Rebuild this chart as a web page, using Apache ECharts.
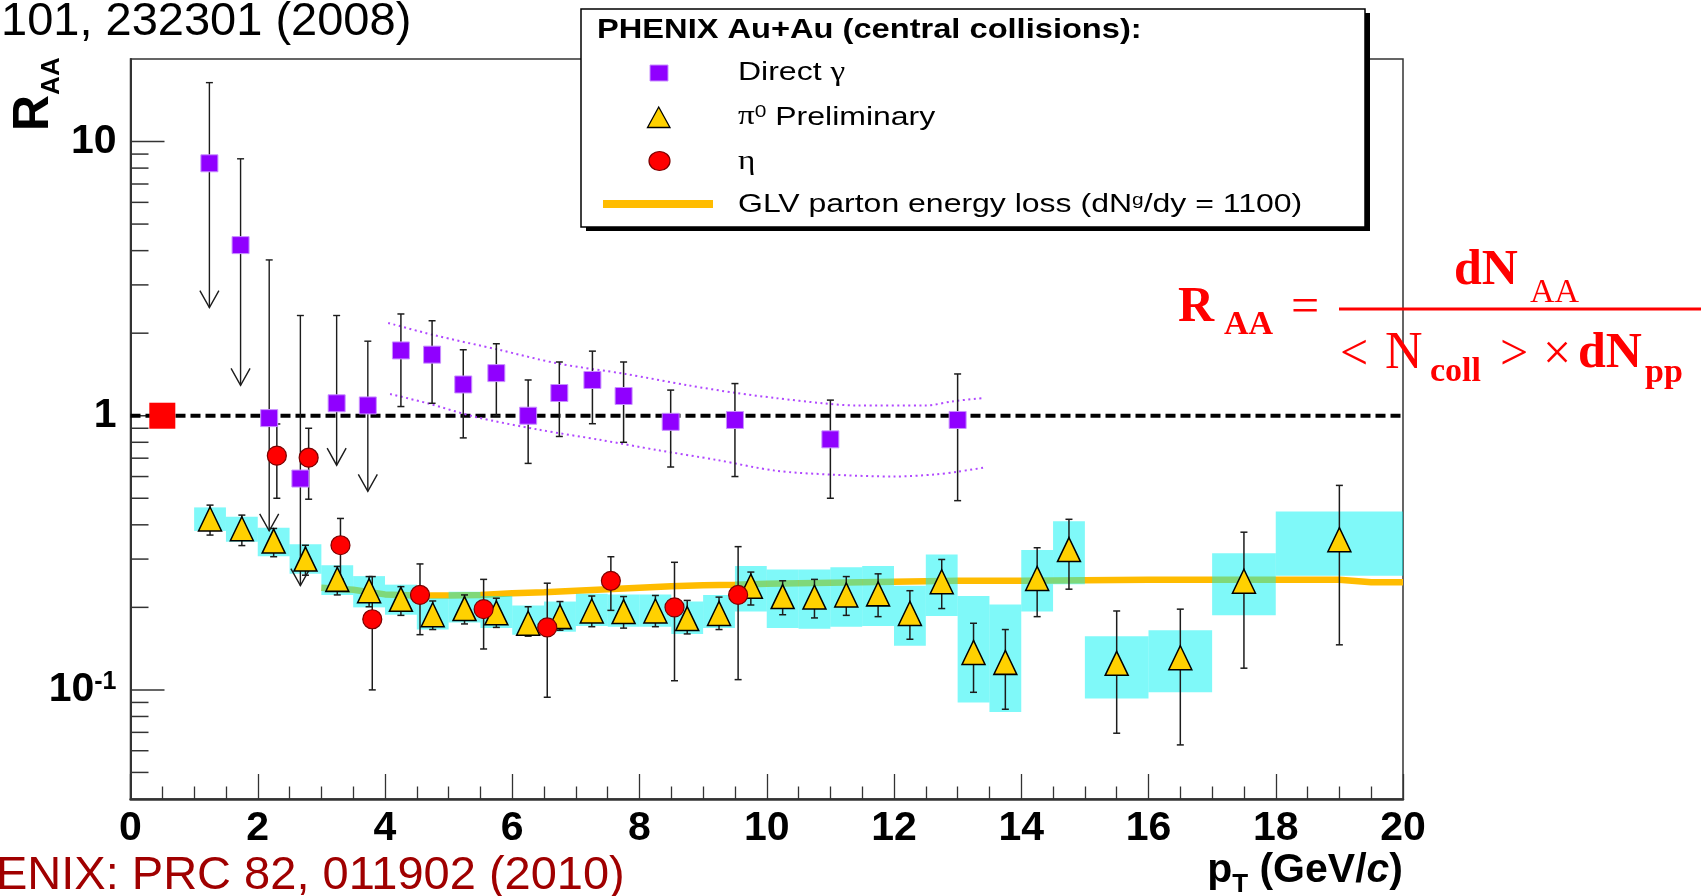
<!DOCTYPE html>
<html>
<head>
<meta charset="utf-8">
<script src="https://cdn.jsdelivr.net/npm/echarts@6.0.0/dist/echarts.min.js"></script>
<style>
  html, body { margin: 0; padding: 0; background: #fff; }
  #chart { width: 1704px; height: 896px; }
</style>
</head>
<body>
<div id="chart"></div>
<script>
// ---- data ----
// direct photons
const gammaPt    = [1.24, 1.73, 2.18, 2.67, 3.24, 3.73, 4.25, 4.74, 5.23, 5.75, 6.25, 6.74, 7.26, 7.75, 8.49, 9.5, 11.0, 13.0];
const gammaR     = [8.33, 4.19, 0.98, 0.59, 1.11, 1.09, 1.73, 1.67, 1.30, 1.43, 1.00, 1.21, 1.35, 1.18, 0.95, 0.965, 0.82, 0.965];
const gammaHi    = [16.4, 8.65, 3.70, 2.32, 2.32, 1.87, 2.35, 2.22, 1.74, 1.83, 1.35, 1.57, 1.72, 1.57, 1.24, 1.31, 1.14, 1.42];
const gammaLo    = [2.48, 1.29, 0.38, 0.24, 0.66, 0.53, 1.08, 1.11, 0.83, 1.00, 0.67, 0.84, 0.935, 0.80, 0.65, 0.60, 0.50, 0.49];
const gammaLimit = [1, 1, 1, 1, 1, 1, 0, 0, 0, 0, 0, 0, 0, 0, 0, 0, 0, 0];

// pi0 preliminary
const pi0Pt     = [1.25, 1.75, 2.25, 2.75, 3.25, 3.75, 4.25, 4.75, 5.25, 5.75, 6.25, 6.75, 7.25, 7.75, 8.25, 8.75,
                   9.25, 9.75, 10.25, 10.75, 11.25, 11.75, 12.25, 12.75, 13.25, 13.75, 14.25, 14.75, 15.5, 16.5, 17.5, 19];
const pi0R      = [0.42, 0.387, 0.349, 0.30, 0.253, 0.230, 0.214, 0.188, 0.198, 0.191, 0.175, 0.185, 0.194, 0.193, 0.194, 0.182,
                   0.19, 0.239, 0.219, 0.218, 0.222, 0.224, 0.19, 0.248, 0.137, 0.126, 0.255, 0.325, 0.125, 0.131, 0.249, 0.353];
const pi0StatHi = [0.472, 0.434, 0.388, 0.337, 0.282, 0.259, 0.238, 0.211, 0.222, 0.216, 0.201, 0.21, 0.22, 0.219, 0.221, 0.212,
                   0.218, 0.269, 0.25, 0.253, 0.259, 0.265, 0.23, 0.299, 0.175, 0.166, 0.33, 0.419, 0.194, 0.197, 0.376, 0.557];
const pi0StatLo = [0.367, 0.336, 0.306, 0.262, 0.222, 0.201, 0.187, 0.166, 0.174, 0.169, 0.157, 0.165, 0.17, 0.168, 0.17, 0.16,
                   0.166, 0.204, 0.188, 0.183, 0.187, 0.185, 0.153, 0.198, 0.098, 0.085, 0.185, 0.233, 0.0695, 0.063, 0.120, 0.146];
const pi0SysHi  = [0.463, 0.428, 0.39, 0.34, 0.285, 0.26, 0.242, 0.216, 0.228, 0.22, 0.203, 0.21, 0.224, 0.223, 0.223, 0.21,
                   0.222, 0.283, 0.275, 0.275, 0.28, 0.283, 0.24, 0.312, 0.22, 0.205, 0.324, 0.412, 0.157, 0.165, 0.315, 0.447];
const pi0SysLo  = [0.38, 0.347, 0.307, 0.265, 0.222, 0.20, 0.188, 0.166, 0.176, 0.168, 0.159, 0.163, 0.171, 0.17, 0.17, 0.16,
                   0.168, 0.193, 0.168, 0.167, 0.17, 0.171, 0.145, 0.186, 0.09, 0.083, 0.193, 0.243, 0.093, 0.098, 0.187, 0.261];
const pi0BinW   = [0.5, 0.5, 0.5, 0.5, 0.5, 0.5, 0.5, 0.5, 0.5, 0.5, 0.5, 0.5, 0.5, 0.5, 0.5, 0.5,
                   0.5, 0.5, 0.5, 0.5, 0.5, 0.5, 0.5, 0.5, 0.5, 0.5, 0.5, 0.5, 1, 1, 1, 2];

// eta
const etaPt = [2.3, 2.8, 3.3, 3.8, 4.55, 5.55, 6.55, 7.55, 8.55, 9.55];
const etaR  = [0.715, 0.703, 0.337, 0.181, 0.222, 0.197, 0.169, 0.25, 0.20, 0.222];
const etaHi = [0.933, 0.90, 0.422, 0.259, 0.288, 0.253, 0.245, 0.306, 0.292, 0.333];
const etaLo = [0.50, 0.496, 0.253, 0.10, 0.159, 0.141, 0.094, 0.195, 0.108, 0.109];

// GLV parton energy loss curve
const glvPt = [3.0, 3.5, 4.0, 4.5, 5.0, 5.5, 6.0, 6.5, 7.0, 7.5, 8.0, 8.5, 9.0, 9.5, 10, 11, 12, 13, 14, 15, 16, 17, 18, 19, 19.5, 20];
const glvR  = [0.236, 0.232, 0.223, 0.221, 0.221, 0.222, 0.225, 0.227, 0.23, 0.233, 0.236, 0.239, 0.241, 0.242, 0.244, 0.246,
               0.248, 0.25, 0.25, 0.251, 0.252, 0.252, 0.252, 0.252, 0.247, 0.247];

// direct photon theory band (dotted)
const bandHiPt = [4.05, 4.76, 5.79, 6.72, 7.78, 8.77, 9.52, 10.14, 10.89, 11.39, 12.5, 12.94, 13.4];
const bandHiR  = [2.18, 1.97, 1.74, 1.55, 1.42, 1.29, 1.21, 1.16, 1.11, 1.09, 1.09, 1.13, 1.16];
const bandLoPt = [4.08, 4.67, 5.42, 6.41, 7.40, 8.27, 9.21, 10.14, 11.01, 12.0, 12.63, 13.0, 13.4];
const bandLoR  = [1.20, 1.11, 0.99, 0.89, 0.815, 0.75, 0.69, 0.63, 0.61, 0.60, 0.61, 0.625, 0.646];

const refPt = [0.5];
const refR  = [1];
const unityPt = [0, 20];
const unityR  = [1, 1];

const yMajorTicks = [0.1, 1, 10];
const yMinorTicks = [0.05, 0.06, 0.07, 0.08, 0.09, 0.2, 0.3, 0.4, 0.5, 0.6, 0.7, 0.8, 0.9, 2, 3, 4, 5, 6, 7, 8, 9];

// ---- helpers ----
const SANS = '"Liberation Sans", Arial, sans-serif';
const SERIF = '"Liberation Serif", "Times New Roman", serif';
const INK = '#1c1c1c';
const zip = (xs, ys) => xs.map((x, i) => [x, ys[i]]);

function errorBar(params, api) {
  const x = api.value(0);
  const top = api.coord([x, api.value(2)]);
  const bot = api.coord([x, api.value(1)]);
  const c = 3.5;
  const st = { stroke: INK, lineWidth: 1.5 };
  return {
    type: 'group',
    children: [
      { type: 'line', shape: { x1: top[0], y1: top[1], x2: bot[0], y2: bot[1] }, style: st },
      { type: 'line', shape: { x1: top[0] - c, y1: top[1], x2: top[0] + c, y2: top[1] }, style: st },
      { type: 'line', shape: { x1: bot[0] - c, y1: bot[1], x2: bot[0] + c, y2: bot[1] }, style: st }
    ]
  };
}

function limitArrow(params, api) {
  const x = api.value(0);
  const top = api.coord([x, api.value(2)]);
  const tip = api.coord([x, api.value(1)]);
  const c = 3.5;
  const st = { stroke: INK, lineWidth: 1.4, fill: null };
  return {
    type: 'group',
    children: [
      { type: 'line', shape: { x1: top[0], y1: top[1], x2: tip[0], y2: tip[1] }, style: st },
      { type: 'line', shape: { x1: top[0] - c, y1: top[1], x2: top[0] + c, y2: top[1] }, style: st },
      { type: 'polyline', shape: { points: [[tip[0] - 9.5, tip[1] - 17], [tip[0], tip[1]], [tip[0] + 9.5, tip[1] - 17]] }, style: st }
    ]
  };
}

function sysBox(params, api) {
  const x = api.value(0), w = api.value(1);
  const p1 = api.coord([x - w / 2, api.value(3)]);
  const p2 = api.coord([x + w / 2, api.value(2)]);
  return {
    type: 'rect',
    shape: { x: p1[0], y: p1[1], width: p2[0] - p1[0], height: p2[1] - p1[1] },
    style: { fill: '#00f4f4', opacity: 0.5 }
  };
}

function yTick(len) {
  return function (params, api) {
    const p = api.coord([0, api.value(1)]);
    return { type: 'line', shape: { x1: p[0], y1: p[1], x2: p[0] + len, y2: p[1] }, style: { stroke: '#333', lineWidth: 1.5 } };
  };
}

const gammaBarData = [], gammaArrowData = [];
gammaPt.forEach((x, i) => {
  (gammaLimit[i] ? gammaArrowData : gammaBarData).push([x, gammaLo[i], gammaHi[i]]);
});

const chart = echarts.init(document.getElementById('chart'), null, { renderer: 'canvas' });

const option = {
  animation: false,
  backgroundColor: '#fff',
  grid: {
    left: 130.5, right: 301, top: 59, bottom: 97,
    show: true, borderColor: '#333', borderWidth: 1.5,
    containLabel: false, outerBoundsMode: 'none'
  },
  xAxis: {
    type: 'value', min: 0, max: 20, interval: 2,
    axisLine: { show: true, onZero: false, lineStyle: { color: '#333', width: 2.5 } },
    axisTick: { show: true, inside: true, length: 25, lineStyle: { color: '#333', width: 1.3 } },
    minorTick: { show: true, splitNumber: 4, length: 12.5, lineStyle: { color: '#333', width: 1.3 } },
    splitLine: { show: false },
    axisLabel: { margin: 9, fontSize: 41, fontWeight: 'bold', fontFamily: SANS, color: '#000' }
  },
  yAxis: {
    type: 'log', logBase: 10, min: 0.04, max: 20,
    axisLine: { show: true, lineStyle: { color: '#333', width: 2 } },
    axisTick: { show: false },
    minorTick: { show: false },
    splitLine: { show: false },
    axisLabel: {
      margin: 14, showMinLabel: false, showMaxLabel: false,
      formatter: function (v) {
        if (Math.abs(v - 10) < 1e-6) return '{b|10}';
        if (Math.abs(v - 1) < 1e-6) return '{b|1}';
        if (Math.abs(v - 0.1) < 1e-6) return '{b|10}{s|-1}';
        return '';
      },
      rich: {
        b: { fontSize: 41, fontWeight: 'bold', fontFamily: SANS, color: '#000', verticalAlign: 'bottom' },
        s: { fontSize: 25, fontWeight: 'bold', fontFamily: SANS, color: '#000', verticalAlign: 'top' }
      }
    }
  },
  series: [
    { type: 'custom', name: 'yMinor', silent: true, z: 1, renderItem: yTick(18), data: yMinorTicks.map(v => [0, v]) },
    { type: 'custom', name: 'yMajor', silent: true, z: 1, renderItem: yTick(34), data: yMajorTicks.map(v => [0, v]) },
    {
      type: 'line', name: 'unity', silent: true, z: 2, symbol: 'none',
      data: zip(unityPt, unityR), lineStyle: { color: '#000', width: 4, type: [10, 5] }
    },
    {
      type: 'line', name: 'bandHi', silent: true, z: 2, symbol: 'none', smooth: 0.3,
      data: zip(bandHiPt, bandHiR), lineStyle: { color: '#b048ff', width: 2, type: [2, 3.5] }
    },
    {
      type: 'line', name: 'bandLo', silent: true, z: 2, symbol: 'none', smooth: 0.3,
      data: zip(bandLoPt, bandLoR), lineStyle: { color: '#b048ff', width: 2, type: [2, 3.5] }
    },
    {
      type: 'line', name: 'GLV', silent: true, z: 3, symbol: 'none',
      data: zip(glvPt, glvR), lineStyle: { color: '#ffbc00', width: 6.5 }
    },
    {
      type: 'custom', name: 'pi0Sys', silent: true, z: 4, renderItem: sysBox,
      data: pi0Pt.map((x, i) => [x, pi0BinW[i], pi0SysLo[i], pi0SysHi[i]])
    },
    {
      type: 'custom', name: 'pi0Stat', silent: true, z: 5, renderItem: errorBar,
      data: pi0Pt.map((x, i) => [x, pi0StatLo[i], pi0StatHi[i]])
    },
    { type: 'custom', name: 'gammaErr', silent: true, z: 5, renderItem: errorBar, data: gammaBarData },
    { type: 'custom', name: 'gammaLim', silent: true, z: 5, renderItem: limitArrow, data: gammaArrowData },
    {
      type: 'custom', name: 'etaErr', silent: true, z: 5, renderItem: errorBar,
      data: etaPt.map((x, i) => [x, etaLo[i], etaHi[i]])
    },
    {
      type: 'scatter', name: 'π0 Preliminary', silent: true, z: 6, symbol: 'triangle', symbolSize: [23, 24],
      data: zip(pi0Pt, pi0R), itemStyle: { color: '#ffd100', borderColor: '#000', borderWidth: 1.5, opacity: 1 }
    },
    {
      type: 'scatter', name: 'Direct γ', silent: true, z: 6, symbol: 'rect', symbolSize: 17,
      data: zip(gammaPt, gammaR), itemStyle: { color: '#9000ff', borderColor: '#c890ff', borderWidth: 1, opacity: 1 }
    },
    {
      type: 'scatter', name: 'η', silent: true, z: 7, symbol: 'circle', symbolSize: 19,
      data: zip(etaPt, etaR), itemStyle: { color: '#ff0000', borderColor: '#7a0000', borderWidth: 1.2, opacity: 1 }
    },
    {
      type: 'scatter', name: 'ref', silent: true, z: 7, symbol: 'rect', symbolSize: 26,
      data: zip(refPt, refR), itemStyle: { color: '#ff0000', opacity: 1 }
    }
  ],
  graphic: [
    // citation lines
    { type: 'text', z: 50, x: 1, y: 22, style: { text: '101, 232301 (2008)', fontSize: 47, fontFamily: SANS, fill: '#000', verticalAlign: 'middle' } },
    { type: 'text', z: 50, x: -4, y: 876, style: { text: 'ENIX: PRC 82, 011902 (2010)', fontSize: 47, fontFamily: SANS, fill: '#a00000', verticalAlign: 'middle' } },
    // axis titles
    {
      type: 'text', z: 50, x: 64.5, y: 131, rotation: Math.PI / 2,
      style: {
        text: '{r|R}{s|AA}', fill: '#000', align: 'left', verticalAlign: 'bottom',
        rich: {
          r: { fontSize: 50, fontWeight: 'bold', fontFamily: SANS, verticalAlign: 'bottom', padding: [0, 0, 5, 0] },
          s: { fontSize: 26, fontWeight: 'bold', fontFamily: SANS, verticalAlign: 'bottom' }
        }
      }
    },
    {
      type: 'text', z: 50, x: 1403, y: 874,
      style: {
        text: '{p|p}{t|T}{p| (GeV/}{c|c}{p|)}', fill: '#000', align: 'right', verticalAlign: 'middle',
        rich: {
          p: { fontSize: 41, fontWeight: 'bold', fontFamily: SANS, verticalAlign: 'bottom', padding: [0, 0, 7, 0] },
          t: { fontSize: 26, fontWeight: 'bold', fontFamily: SANS, verticalAlign: 'bottom' },
          c: { fontSize: 41, fontWeight: 'bold', fontStyle: 'italic', fontFamily: SANS, verticalAlign: 'bottom', padding: [0, 0, 7, 0] }
        }
      }
    },
    // legend box
    { type: 'rect', z: 100, shape: { x: 586, y: 13, width: 784, height: 218 }, style: { fill: '#000' } },
    { type: 'rect', z: 101, shape: { x: 581, y: 9, width: 784, height: 218 }, style: { fill: '#fff', stroke: '#000', lineWidth: 1.5 } },
    {
      type: 'text', z: 102, x: 597, y: 30, scaleX: 1.165,
      style: { text: 'PHENIX Au+Au (central collisions):', fontSize: 28, fontWeight: 'bold', fontFamily: SANS, fill: '#000', verticalAlign: 'middle' }
    },
    { type: 'rect', z: 102, shape: { x: 650, y: 65, width: 18, height: 16 }, style: { fill: '#9000ff', stroke: '#c890ff', lineWidth: 1 } },
    {
      type: 'text', z: 102, x: 738, y: 73, scaleX: 1.23,
      style: {
        text: '{a|Direct }{g|γ}', fill: '#000', verticalAlign: 'middle',
        rich: { a: { fontSize: 26, fontFamily: SANS }, g: { fontSize: 27, fontFamily: SERIF } }
      }
    },
    {
      type: 'polygon', z: 102, shape: { points: [[647.5, 127.5], [670, 127.5], [658.7, 107]] },
      style: { fill: '#ffd100', stroke: '#000', lineWidth: 1.3 }
    },
    {
      type: 'text', z: 102, x: 738, y: 117, scaleX: 1.23,
      style: {
        text: '{g|π}{s|0}{a| Preliminary}', fill: '#000', verticalAlign: 'middle',
        rich: {
          g: { fontSize: 27, fontFamily: SERIF, verticalAlign: 'bottom' },
          s: { fontSize: 17, fontFamily: SANS, verticalAlign: 'top' },
          a: { fontSize: 26, fontFamily: SANS, verticalAlign: 'bottom' }
        }
      }
    },
    { type: 'ellipse', z: 102, shape: { cx: 659.5, cy: 161, rx: 10.5, ry: 9.5 }, style: { fill: '#ff0000', stroke: '#7a0000', lineWidth: 1.2 } },
    {
      type: 'text', z: 102, x: 738, y: 162, scaleX: 1.23,
      style: { text: 'η', fontSize: 27, fontFamily: SERIF, fill: '#000', verticalAlign: 'middle' }
    },
    { type: 'rect', z: 102, shape: { x: 603, y: 200, width: 110, height: 8 }, style: { fill: '#ffbc00' } },
    {
      type: 'text', z: 102, x: 738, y: 205, scaleX: 1.23,
      style: {
        text: '{a|GLV parton energy loss (dN}{s|g}{a|/dy = 1100)}', fill: '#000', verticalAlign: 'middle',
        rich: {
          a: { fontSize: 26, fontFamily: SANS, verticalAlign: 'bottom' },
          s: { fontSize: 17, fontFamily: SANS, verticalAlign: 'top' }
        }
      }
    },
    // R_AA definition
    { type: 'text', z: 60, x: 1178, y: 308, style: { text: 'R', fontSize: 50, fontWeight: 'bold', fontFamily: SERIF, fill: '#ff0000', verticalAlign: 'middle' } },
    { type: 'text', z: 60, x: 1224, y: 325, style: { text: 'AA', fontSize: 34, fontWeight: 'bold', fontFamily: SERIF, fill: '#ff0000', verticalAlign: 'middle' } },
    { type: 'text', z: 60, x: 1291, y: 309, style: { text: '=', fontSize: 50, fontFamily: SERIF, fill: '#ff0000', verticalAlign: 'middle' } },
    { type: 'line', z: 60, shape: { x1: 1339, y1: 309, x2: 1701, y2: 309 }, style: { stroke: '#ff0000', lineWidth: 3 } },
    { type: 'text', z: 60, x: 1454, y: 271, style: { text: 'dN', fontSize: 50, fontWeight: 'bold', fontFamily: SERIF, fill: '#ff0000', verticalAlign: 'middle' } },
    { type: 'text', z: 60, x: 1530, y: 293, style: { text: 'AA', fontSize: 34, fontFamily: SERIF, fill: '#ff0000', verticalAlign: 'middle' } },
    { type: 'text', z: 60, x: 1340, y: 356, style: { text: '<', fontSize: 50, fontFamily: SERIF, fill: '#ff0000', verticalAlign: 'middle' } },
    { type: 'text', z: 60, x: 1385, y: 354, style: { text: 'N', fontSize: 52, fontFamily: SERIF, fill: '#ff0000', verticalAlign: 'middle' } },
    { type: 'text', z: 60, x: 1430, y: 372, style: { text: 'coll', fontSize: 34, fontWeight: 'bold', fontFamily: SERIF, fill: '#ff0000', verticalAlign: 'middle' } },
    { type: 'text', z: 60, x: 1500, y: 356, style: { text: '>', fontSize: 50, fontFamily: SERIF, fill: '#ff0000', verticalAlign: 'middle' } },
    { type: 'text', z: 60, x: 1543, y: 356, style: { text: '×', fontSize: 50, fontFamily: SERIF, fill: '#ff0000', verticalAlign: 'middle' } },
    { type: 'text', z: 60, x: 1578, y: 354, style: { text: 'dN', fontSize: 50, fontWeight: 'bold', fontFamily: SERIF, fill: '#ff0000', verticalAlign: 'middle' } },
    { type: 'text', z: 60, x: 1645, y: 373, style: { text: 'pp', fontSize: 34, fontWeight: 'bold', fontFamily: SERIF, fill: '#ff0000', verticalAlign: 'middle' } }
  ]
};

chart.setOption(option);
</script>
</body>
</html>
